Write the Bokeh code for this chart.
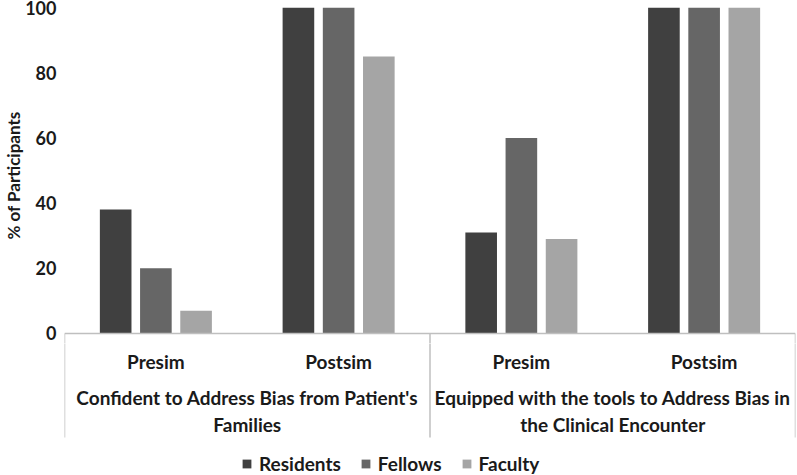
from bokeh.plotting import figure
from bokeh.layouts import column
from bokeh.models import (FactorRange, Range1d, ColumnDataSource, FixedTicker,
                          Legend, LegendItem, Span)
from bokeh.transform import dodge
from bokeh.core.properties import value
from bokeh.embed import file_html
from bokeh.resources import INLINE

# ---- data ----
groups = ["Confident to Address Bias from Patient's Families",
          "Equipped with the tools to Address Bias in the Clinical Encounter"]
group_lines = ["Confident to Address Bias from Patient's\nFamilies",
               "Equipped with the tools to Address Bias in\nthe Clinical Encounter"]
phases = ["Presim", "Postsim"]
series = ["Residents", "Fellows", "Faculty"]
residents = [38, 100, 31, 100]
fellows = [20, 100, 60, 100]
faculty = [7, 85, 29, 100]
y_ticks = [0, 20, 40, 60, 80, 100]

colors = ["#404040", "#666666", "#a5a5a5"]
FONT = "Lato"
TXT = "#1a1a1a"
LINE = "#bfbfbf"
Y_LOW = -3.07

x = [(g, ph) for g in groups for ph in phases]
src = ColumnDataSource(dict(x=x, Residents=residents, Fellows=fellows, Faculty=faculty))
xr = FactorRange(*x, factor_padding=0, group_padding=0, range_padding=0)

# ---- main plot ----
p = figure(frame_width=731, frame_height=336, output_backend="svg", toolbar_location=None,
           x_range=xr, y_range=Range1d(Y_LOW, 100), x_axis_location=None,
           min_border_left=64, min_border_right=2, min_border_top=7, min_border_bottom=0)
p.outline_line_color = None
p.grid.visible = False

offsets = [-0.22, 0.0, 0.22]
for s, c, off in zip(series, colors, offsets):
    p.vbar(x=dodge("x", off, range=xr), top=s, width=0.173, source=src,
           fill_color=c, line_color=None)

p.add_layout(Span(location=0, dimension="width", line_color=LINE, line_width=1.5))
p.segment(x0=dodge("x", -0.5, range=xr), x1=dodge("x", -0.5, range=xr), y0=0, y1=Y_LOW,
          source=ColumnDataSource(dict(x=[x[0], x[2]])), line_color=LINE, line_width=1.5)
p.segment(x0=dodge("x", 0.5, range=xr), x1=dodge("x", 0.5, range=xr), y0=0, y1=Y_LOW,
          source=ColumnDataSource(dict(x=[x[-1]])), line_color=LINE, line_width=1.5)

yax = p.yaxis[0]
yax.ticker = FixedTicker(ticks=y_ticks)
yax.axis_line_color = None
yax.major_tick_line_color = None
yax.minor_tick_line_color = None
yax.major_tick_out = 0
yax.major_tick_in = 0
yax.minor_tick_out = 0
yax.minor_tick_in = 0
yax.major_label_text_font = FONT
yax.major_label_text_font_style = "bold"
yax.major_label_text_font_size = "18px"
yax.major_label_text_color = TXT
yax.major_label_standoff = 8
yax.axis_label = "% of Participants"
yax.axis_label_text_font = FONT
yax.axis_label_text_font_style = "bold"
yax.axis_label_text_font_size = "17px"
yax.axis_label_text_color = TXT
yax.axis_label_standoff = -2

# ---- category axis area + legend ----
b = figure(frame_width=731, frame_height=132, output_backend="svg", toolbar_location=None,
           x_range=xr, y_range=Range1d(-142, -10), x_axis_location=None, y_axis_location=None,
           min_border_left=64, min_border_right=2, min_border_top=0, min_border_bottom=0)
b.outline_line_color = None
b.grid.visible = False

b.segment(x0=dodge("x", -0.5, range=xr), x1=dodge("x", -0.5, range=xr), y0=-9, y1=-104,
          source=ColumnDataSource(dict(x=[x[0], x[2]])), line_color=LINE, line_width=1.5)
b.segment(x0=dodge("x", 0.5, range=xr), x1=dodge("x", 0.5, range=xr), y0=-9, y1=-104,
          source=ColumnDataSource(dict(x=[x[-1]])), line_color=LINE, line_width=1.5)

b.text(x="x", y=-28, text="t",
       source=ColumnDataSource(dict(x=x, t=[ph for g in groups for ph in phases])),
       text_font=value(FONT), text_font_style="bold", text_font_size="19px",
       text_align="center", text_baseline="middle", text_color=TXT)
b.text(x="x", y=-77.5, text="t", source=ColumnDataSource(dict(x=groups, t=group_lines)),
       text_font=value(FONT), text_font_style="bold", text_font_size="19px",
       text_align="center", text_baseline="middle", text_line_height=1.15, text_color=TXT)

# legend swatches (kept outside the visible range so only the legend shows them)
hidden = ColumnDataSource(dict(x=[x[0]], top=[-500], bottom=[-500]))
leg_r = [b.vbar(x="x", top="top", bottom="bottom", width=0.1, source=hidden,
                fill_color=c, line_color=None) for c in colors]
legend = Legend(items=[LegendItem(label=s, renderers=[r]) for s, r in zip(series, leg_r)],
                orientation="horizontal", location=(177, 0), border_line_color=None,
                background_fill_alpha=0, glyph_width=11, glyph_height=11, label_standoff=7,
                spacing=19, padding=0, margin=0,
                label_text_font=FONT, label_text_font_style="bold", label_text_font_size="19px",
                label_text_color=TXT)
b.add_layout(legend, "center")

layout = column(p, b, spacing=0)
open("out.html", "w").write(file_html(layout, INLINE))
